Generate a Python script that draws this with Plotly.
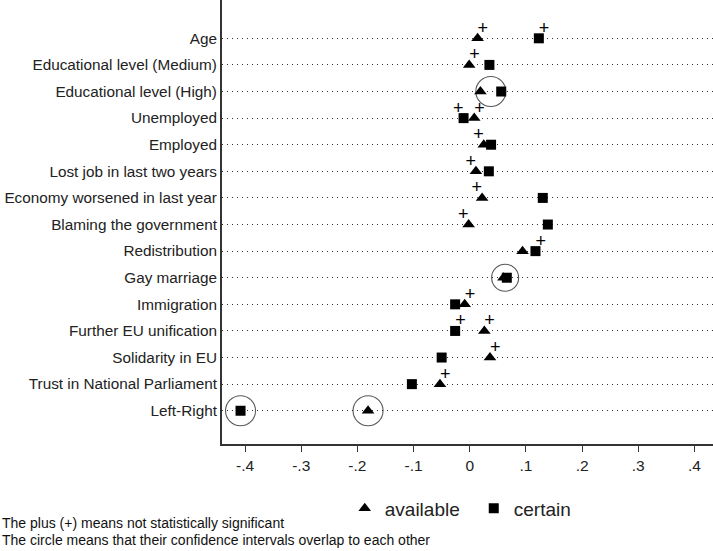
import plotly.graph_objects as go

categories = ["Age", "Educational level (Medium)", "Educational level (High)", "Unemployed",
              "Employed", "Lost job in last two years", "Economy worsened in last year",
              "Blaming the government", "Redistribution", "Gay marriage", "Immigration",
              "Further EU unification", "Solidarity in EU", "Trust in National Parliament",
              "Left-Right"]
available = [0.014, -0.001, 0.019, 0.008, 0.025, 0.011, 0.022, -0.002, 0.094, 0.060,
             -0.009, 0.026, 0.036, -0.053, -0.181]
certain = [0.123, 0.035, 0.056, -0.011, 0.038, 0.034, 0.130, 0.139, 0.117, 0.066,
           -0.026, -0.026, -0.050, -0.103, -0.408]
# plus = not statistically significant ("" none, "L" plus up-left, "R" plus up-right)
available_plus = ["R", "R", "", "R", "L", "L", "L", "L", "", "", "R", "R", "R", "R", ""]
certain_plus = ["R", "", "", "L", "", "", "", "", "R", "", "", "R", "", "", ""]
# circle = confidence intervals overlap ("both" around pair, "each" around each marker)
circles = {"Educational level (High)": "both", "Gay marriage": "both", "Left-Right": "each"}
xtick_vals = [-0.4, -0.3, -0.2, -0.1, 0, 0.1, 0.2, 0.3, 0.4]
xtick_text = ["-.4", "-.3", "-.2", "-.1", "0", ".1", ".2", ".3", ".4"]
notes = ["The plus (+) means not statistically significant",
         "The circle means that their confidence intervals overlap to each other"]

ypos = list(range(1, len(categories) + 1))
FONT = "Liberation Sans, Arial, sans-serif"

fig = go.Figure()
fig.add_trace(go.Scatter(x=available, y=ypos, mode="markers", name="available",
                         marker=dict(symbol="triangle-up", size=11, color="black")))
fig.add_trace(go.Scatter(x=certain, y=ypos, mode="markers", name="certain",
                         marker=dict(symbol="square", size=10, color="black")))

pos_map = {"L": "top left", "R": "top right"}
for vals, plus in ((available, available_plus), (certain, certain_plus)):
    xs, ys, tp = [], [], []
    for v, y, p in zip(vals, ypos, plus):
        if p:
            xs.append(v); ys.append(y); tp.append(pos_map[p])
    fig.add_trace(go.Scatter(x=xs, y=ys, mode="text", text=["+"] * len(xs),
                             textposition=tp, showlegend=False, hoverinfo="skip",
                             textfont=dict(size=18, color="black", family=FONT)))

cx, cy, cs = [], [], []
for cat, kind in circles.items():
    i = categories.index(cat)
    if kind == "both":
        cx.append((available[i] + certain[i]) / 2); cy.append(ypos[i])
        cs.append(30 if abs(available[i] - certain[i]) > 0.02 else 27)
    else:
        cx += [available[i], certain[i]]; cy += [ypos[i], ypos[i]]; cs += [30, 30]
fig.add_trace(go.Scatter(x=cx, y=cy, mode="markers", showlegend=False, hoverinfo="skip",
                         marker=dict(symbol="circle-open", size=cs, color="#111",
                                     line=dict(width=1.1, color="#111"))))

fig.update_xaxes(range=[-0.441, 0.433], tickvals=xtick_vals, ticktext=xtick_text,
                 showgrid=False, zeroline=False, showline=True, linecolor="#333",
                 linewidth=2, ticks="outside", ticklen=6, tickcolor="#333",
                 tickfont=dict(size=15.5, family=FONT, color="#222"))
fig.update_yaxes(range=[16.25, -0.44], tickvals=ypos, ticktext=categories,
                 showgrid=True, gridcolor="#333", griddash="1px,4px", gridwidth=1.3,
                 zeroline=False, showline=True, linecolor="#333", linewidth=2,
                 ticks="", ticklen=0, ticklabelstandoff=0,
                 tickfont=dict(size=15.3, family=FONT, color="#222"))

for k, t in enumerate(notes):
    fig.add_annotation(xref="paper", yref="paper", x=-0.452, y=-0.178 - k * 0.038,
                       xanchor="left", yanchor="middle", text=t, showarrow=False,
                       font=dict(size=14, family=FONT, color="#111"))

fig.update_layout(width=713, height=551, margin=dict(l=222, r=0, t=0, b=107),
                  plot_bgcolor="white", paper_bgcolor="white",
                  legend=dict(orientation="h", x=0.25, y=-0.145, xanchor="left",
                              yanchor="middle", font=dict(size=19, family=FONT, color="#222"),
                              itemwidth=30, entrywidth=84, entrywidthmode="pixels",
                              tracegroupgap=0))
fig.write_html("out.html")
